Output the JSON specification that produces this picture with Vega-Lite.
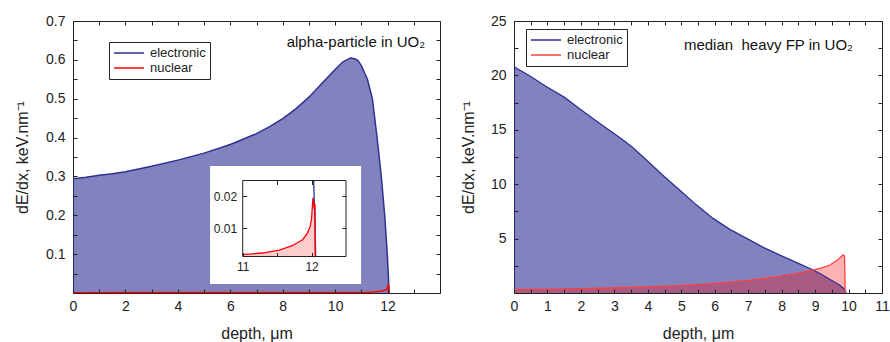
{
  "$schema": "https://vega.github.io/schema/vega-lite/v6.json",
  "background": "white",
  "padding": {"left": 14, "top": 13, "right": 0, "bottom": 0},
  "spacing": 18,
  "config": {
    "font": "Liberation Sans",
    "view": {"stroke": "#222", "strokeWidth": 1},
    "axis": {
      "grid": false, "domain": false, "ticks": true, "tickSize": 4, "tickColor": "#222", "tickWidth": 1,
      "labelFont": "Liberation Sans", "labelFontSize": 14, "labelColor": "#222", "labelPadding": 8,
      "labelOverlap": false, "labelFlush": false,
      "titleFont": "Liberation Sans", "titleFontSize": 16, "titleFontWeight": "normal", "titleColor": "#222"
    }
  },
  "datasets": {
    "alpha": [
      {"series": "electronic", "depth": 0, "dEdx": 0.294},
      {"series": "electronic", "depth": 0.5, "dEdx": 0.298},
      {"series": "electronic", "depth": 1, "dEdx": 0.303},
      {"series": "electronic", "depth": 1.5, "dEdx": 0.307},
      {"series": "electronic", "depth": 2, "dEdx": 0.312},
      {"series": "electronic", "depth": 3, "dEdx": 0.326},
      {"series": "electronic", "depth": 4, "dEdx": 0.342},
      {"series": "electronic", "depth": 5, "dEdx": 0.36},
      {"series": "electronic", "depth": 6, "dEdx": 0.382},
      {"series": "electronic", "depth": 7, "dEdx": 0.41},
      {"series": "electronic", "depth": 7.5, "dEdx": 0.428},
      {"series": "electronic", "depth": 8, "dEdx": 0.449},
      {"series": "electronic", "depth": 8.5, "dEdx": 0.474},
      {"series": "electronic", "depth": 9, "dEdx": 0.504},
      {"series": "electronic", "depth": 9.5, "dEdx": 0.54},
      {"series": "electronic", "depth": 10, "dEdx": 0.575},
      {"series": "electronic", "depth": 10.3, "dEdx": 0.595},
      {"series": "electronic", "depth": 10.58, "dEdx": 0.605},
      {"series": "electronic", "depth": 10.75, "dEdx": 0.603},
      {"series": "electronic", "depth": 10.87, "dEdx": 0.598},
      {"series": "electronic", "depth": 11.0, "dEdx": 0.585},
      {"series": "electronic", "depth": 11.1, "dEdx": 0.57},
      {"series": "electronic", "depth": 11.23, "dEdx": 0.55},
      {"series": "electronic", "depth": 11.42, "dEdx": 0.5},
      {"series": "electronic", "depth": 11.6, "dEdx": 0.4},
      {"series": "electronic", "depth": 11.76, "dEdx": 0.3},
      {"series": "electronic", "depth": 11.89, "dEdx": 0.2},
      {"series": "electronic", "depth": 11.99, "dEdx": 0.1},
      {"series": "electronic", "depth": 12.03, "dEdx": 0.045},
      {"series": "electronic", "depth": 12.05, "dEdx": 0.012},
      {"series": "electronic", "depth": 12.06, "dEdx": 0},
      {"series": "nuclear", "depth": 0, "dEdx": 0.0009},
      {"series": "nuclear", "depth": 2, "dEdx": 0.001},
      {"series": "nuclear", "depth": 4, "dEdx": 0.0011},
      {"series": "nuclear", "depth": 6, "dEdx": 0.0012},
      {"series": "nuclear", "depth": 8, "dEdx": 0.0013},
      {"series": "nuclear", "depth": 10, "dEdx": 0.0014},
      {"series": "nuclear", "depth": 11, "dEdx": 0.0016},
      {"series": "nuclear", "depth": 11.29, "dEdx": 0.0021},
      {"series": "nuclear", "depth": 11.53, "dEdx": 0.003},
      {"series": "nuclear", "depth": 11.72, "dEdx": 0.0044},
      {"series": "nuclear", "depth": 11.87, "dEdx": 0.0063},
      {"series": "nuclear", "depth": 11.94, "dEdx": 0.0084},
      {"series": "nuclear", "depth": 11.98, "dEdx": 0.0105},
      {"series": "nuclear", "depth": 12.0, "dEdx": 0.013},
      {"series": "nuclear", "depth": 12.02, "dEdx": 0.0195},
      {"series": "nuclear", "depth": 12.035, "dEdx": 0.0165},
      {"series": "nuclear", "depth": 12.05, "dEdx": 0.017},
      {"series": "nuclear", "depth": 12.052, "dEdx": 0}
    ],
    "fp": [
      {"series": "electronic", "depth": 0, "dEdx": 20.8},
      {"series": "electronic", "depth": 0.5, "dEdx": 19.9},
      {"series": "electronic", "depth": 0.95, "dEdx": 19.0},
      {"series": "electronic", "depth": 1.5, "dEdx": 18.0},
      {"series": "electronic", "depth": 1.95, "dEdx": 16.96},
      {"series": "electronic", "depth": 2.4, "dEdx": 15.95},
      {"series": "electronic", "depth": 2.84, "dEdx": 14.98},
      {"series": "electronic", "depth": 3.2, "dEdx": 14.2},
      {"series": "electronic", "depth": 3.54, "dEdx": 13.4},
      {"series": "electronic", "depth": 4.0, "dEdx": 12.1},
      {"series": "electronic", "depth": 4.44, "dEdx": 10.85},
      {"series": "electronic", "depth": 4.94, "dEdx": 9.5},
      {"series": "electronic", "depth": 5.45, "dEdx": 8.1},
      {"series": "electronic", "depth": 5.94, "dEdx": 6.88},
      {"series": "electronic", "depth": 6.45, "dEdx": 5.85},
      {"series": "electronic", "depth": 6.94, "dEdx": 5.04},
      {"series": "electronic", "depth": 7.45, "dEdx": 4.2},
      {"series": "electronic", "depth": 7.93, "dEdx": 3.51},
      {"series": "electronic", "depth": 8.45, "dEdx": 2.8},
      {"series": "electronic", "depth": 8.93, "dEdx": 2.14},
      {"series": "electronic", "depth": 9.2, "dEdx": 1.7},
      {"series": "electronic", "depth": 9.5, "dEdx": 1.15},
      {"series": "electronic", "depth": 9.7, "dEdx": 0.8},
      {"series": "electronic", "depth": 9.88, "dEdx": 0.35},
      {"series": "electronic", "depth": 9.93, "dEdx": 0},
      {"series": "nuclear", "depth": 0, "dEdx": 0.3},
      {"series": "nuclear", "depth": 1, "dEdx": 0.35},
      {"series": "nuclear", "depth": 2, "dEdx": 0.4},
      {"series": "nuclear", "depth": 2.94, "dEdx": 0.46},
      {"series": "nuclear", "depth": 4, "dEdx": 0.56},
      {"series": "nuclear", "depth": 4.94, "dEdx": 0.67},
      {"series": "nuclear", "depth": 5.94, "dEdx": 0.86},
      {"series": "nuclear", "depth": 6.94, "dEdx": 1.13},
      {"series": "nuclear", "depth": 7.93, "dEdx": 1.53},
      {"series": "nuclear", "depth": 8.43, "dEdx": 1.78},
      {"series": "nuclear", "depth": 8.93, "dEdx": 2.1},
      {"series": "nuclear", "depth": 9.2, "dEdx": 2.3},
      {"series": "nuclear", "depth": 9.43, "dEdx": 2.55},
      {"series": "nuclear", "depth": 9.68, "dEdx": 3.05},
      {"series": "nuclear", "depth": 9.84, "dEdx": 3.5},
      {"series": "nuclear", "depth": 9.88, "dEdx": 3.4},
      {"series": "nuclear", "depth": 9.9, "dEdx": 0}
    ]
  },
  "hconcat": [
    {
      "width": 367,
      "height": 272,
      "data": {"name": "alpha"},
      "layer": [
        {
          "layer": [
            {
              "transform": [{"filter": "datum.series == 'electronic'"}],
              "mark": {"type": "area", "fill": "#2e3192", "fillOpacity": 0.6, "clip": true},
              "encoding": {
                "x": {"field": "depth", "type": "quantitative", "scale": {"domain": [0, 14], "nice": false},
                  "axis": {"orient": "bottom", "offset": -4, "zindex": 1, "labelPadding": 6, "values": [0,1,2,3,4,5,6,7,8,9,10,11,12,13,14],
                    "labelExpr": "datum.value % 2 == 0 && datum.value < 13 ? datum.label : ''", "title": "depth, μm", "titlePadding": 12}},
                "y": {"field": "dEdx", "type": "quantitative", "scale": {"domain": [0, 0.7], "nice": false},
                  "axis": {"orient": "left", "offset": -4, "zindex": 1, "values": [0.05,0.1,0.15,0.2,0.25,0.3,0.35,0.4,0.45,0.5,0.55,0.6,0.65,0.7],
                    "labelExpr": "round(datum.value*100) % 10 == 0 ? format(datum.value, '.1f') : ''",
                    "title": "dE/dx, keV.nm⁻¹", "titlePadding": 15}}
              }
            },
            {
              "data": {"values": [{}]},
              "mark": {"type": "rect", "fill": "white"},
              "encoding": {
                "x": {"datum": 5.23, "type": "quantitative", "axis": null},
                "x2": {"datum": 10.99},
                "y": {"datum": 0.327, "type": "quantitative", "axis": null},
                "y2": {"datum": 0.023}
              }
            },
            {
              "mark": {"type": "line", "strokeWidth": 1.5, "clip": true},
              "encoding": {
                "x": {"field": "depth", "type": "quantitative",
                  "axis": {"orient": "bottom", "offset": -272, "zindex": 1, "values": [0,1,2,3,4,5,6,7,8,9,10,11,12,13,14], "labels": false, "title": null}},
                "y": {"field": "dEdx", "type": "quantitative",
                  "axis": {"orient": "right", "offset": -4, "zindex": 1, "values": [0.05,0.1,0.15,0.2,0.25,0.3,0.35,0.4,0.45,0.5,0.55,0.6,0.65,0.7], "labels": false, "title": null}},
                "color": {"field": "series", "type": "nominal",
                  "scale": {"domain": ["electronic", "nuclear"], "range": ["#2e3192", "#ff0000"]},
                  "legend": {"orient": "none", "legendX": 36, "legendY": 21, "title": null, "strokeColor": "#222", "fillColor": "white",
                    "padding": 4, "symbolType": "M-2.5,0H2.5", "symbolSize": 144, "symbolStrokeWidth": 1.5, "symbolOffset": 9,
                    "labelOffset": 14, "labelFontSize": 13, "labelFont": "Liberation Sans", "labelColor": "#222", "rowPadding": 1}}
              }
            },
            {
              "data": {"values": [{}]},
              "mark": {"type": "text", "align": "right", "baseline": "middle", "fontSize": 15, "font": "Liberation Sans", "color": "#111"},
              "encoding": {
                "x": {"datum": 13.43, "type": "quantitative", "axis": null},
                "y": {"datum": 0.646, "type": "quantitative", "axis": null},
                "text": {"value": "alpha-particle in UO₂"}
              }
            }
          ],
          "resolve": {"axis": {"x": "independent", "y": "independent"}}
        },
        {
          "layer": [
            {
              "transform": [{"filter": "datum.series == 'nuclear' && datum.depth >= 11"}],
              "mark": {"type": "area", "fill": "#ff0000", "fillOpacity": 0.2},
              "encoding": {
                "x": {"field": "depth", "type": "quantitative",
                  "scale": {"domain": [11, 12.5], "range": [169.7, 273], "nice": false, "zero": false, "clamp": true},
                  "axis": {"orient": "bottom", "offset": -40.5, "zindex": 1, "values": [11, 11.5, 12], "labelExpr": "datum.value == 11.5 ? '' : format(datum.value, 'd')",
                    "title": null, "labelFontSize": 12, "labelPadding": 5}},
                "y": {"field": "dEdx", "type": "quantitative",
                  "scale": {"domain": [0.001, 0.025], "range": [235.5, 159.5], "nice": false, "zero": false, "clamp": true},
                  "axis": {"orient": "left", "offset": -173.7, "zindex": 1, "values": [0.01, 0.02], "format": ".2f",
                    "title": null, "labelFontSize": 12, "labelPadding": 6}}
              }
            },
            {
              "transform": [{"filter": "datum.series == 'electronic' && datum.depth >= 12.03"}],
              "mark": {"type": "line", "stroke": "#2e3192", "strokeWidth": 1.3},
              "encoding": {
                "x": {"field": "depth", "type": "quantitative",
                  "axis": {"orient": "bottom", "offset": -112.5, "zindex": 1, "values": [11.5, 12], "labels": false, "title": null}},
                "y": {"field": "dEdx", "type": "quantitative",
                  "axis": {"orient": "right", "offset": -98, "zindex": 1, "values": [0.01, 0.02], "labels": false, "title": null}}
              }
            },
            {
              "transform": [{"filter": "datum.series == 'nuclear' && datum.depth >= 11"}],
              "mark": {"type": "line", "stroke": "#ff0000", "strokeWidth": 1.3},
              "encoding": {
                "x": {"field": "depth", "type": "quantitative", "axis": null},
                "y": {"field": "dEdx", "type": "quantitative", "axis": null}
              }
            },
            {
              "data": {"values": [{}]},
              "mark": {"type": "rect", "fill": "transparent", "stroke": "#222", "strokeWidth": 1},
              "encoding": {
                "x": {"datum": 11, "type": "quantitative", "axis": null},
                "x2": {"datum": 12.5},
                "y": {"datum": 0.001, "type": "quantitative", "axis": null},
                "y2": {"datum": 0.025}
              }
            }
          ],
          "resolve": {"axis": {"x": "independent", "y": "independent"}}
        }
      ],
      "resolve": {"scale": {"x": "independent", "y": "independent"}}
    },
    {
      "width": 368,
      "height": 272,
      "data": {"name": "fp"},
      "layer": [
        {
          "transform": [{"filter": "datum.series == 'electronic'"}],
          "mark": {"type": "area", "fill": "#2e3192", "fillOpacity": 0.6, "clip": true},
          "encoding": {
            "x": {"field": "depth", "type": "quantitative", "scale": {"domain": [0, 11], "nice": false},
              "axis": {"orient": "bottom", "offset": -4, "zindex": 1, "labelPadding": 6, "values": [0,0.5,1,1.5,2,2.5,3,3.5,4,4.5,5,5.5,6,6.5,7,7.5,8,8.5,9,9.5,10,10.5,11],
                "labelExpr": "datum.value % 1 == 0 ? format(datum.value, 'd') : ''", "title": "depth, μm", "titlePadding": 12}},
            "y": {"field": "dEdx", "type": "quantitative", "scale": {"domain": [0, 25], "nice": false},
              "axis": {"orient": "left", "offset": -4, "zindex": 1, "values": [2.5,5,7.5,10,12.5,15,17.5,20,22.5,25],
                "labelExpr": "datum.value % 5 == 0 ? format(datum.value, 'd') : ''", "title": "dE/dx, keV.nm⁻¹", "titlePadding": 14}}
          }
        },
        {
          "transform": [{"filter": "datum.series == 'nuclear'"}],
          "mark": {"type": "area", "fill": "#ff0000", "fillOpacity": 0.3, "clip": true},
          "encoding": {
            "x": {"field": "depth", "type": "quantitative", "axis": null},
            "y": {"field": "dEdx", "type": "quantitative", "axis": null}
          }
        },
        {
          "mark": {"type": "line", "strokeWidth": 1.3, "clip": true},
          "encoding": {
            "x": {"field": "depth", "type": "quantitative",
              "axis": {"orient": "bottom", "offset": -272, "zindex": 1, "values": [0,0.5,1,1.5,2,2.5,3,3.5,4,4.5,5,5.5,6,6.5,7,7.5,8,8.5,9,9.5,10,10.5,11], "labels": false, "title": null}},
            "y": {"field": "dEdx", "type": "quantitative",
              "axis": {"orient": "right", "offset": -4, "zindex": 1, "values": [2.5,5,7.5,10,12.5,15,17.5,20,22.5,25], "labels": false, "title": null}},
            "color": {"field": "series", "type": "nominal",
              "scale": {"domain": ["electronic", "nuclear"], "range": ["#2e3192", "#ff4040"]},
              "legend": {"orient": "none", "legendX": 12, "legendY": 8, "title": null, "strokeColor": "#222", "fillColor": "white",
                "padding": 4, "symbolType": "M-2.5,0H2.5", "symbolSize": 144, "symbolStrokeWidth": 1.5, "symbolOffset": 9,
                "labelOffset": 14, "labelFontSize": 13, "labelFont": "Liberation Sans", "labelColor": "#222", "rowPadding": 1}}
          }
        },
        {
          "data": {"values": [{}]},
          "mark": {"type": "text", "align": "right", "baseline": "middle", "fontSize": 15, "font": "Liberation Sans", "color": "#111"},
          "encoding": {
            "x": {"datum": 10.13, "type": "quantitative", "axis": null},
            "y": {"datum": 22.8, "type": "quantitative", "axis": null},
            "text": {"value": "median\u00a0 heavy FP in UO₂"}
          }
        }
      ],
      "resolve": {"axis": {"x": "independent", "y": "independent"}}
    }
  ],
  "resolve": {"scale": {"x": "independent", "y": "independent", "color": "independent"}, "legend": {"color": "independent"}}
}
